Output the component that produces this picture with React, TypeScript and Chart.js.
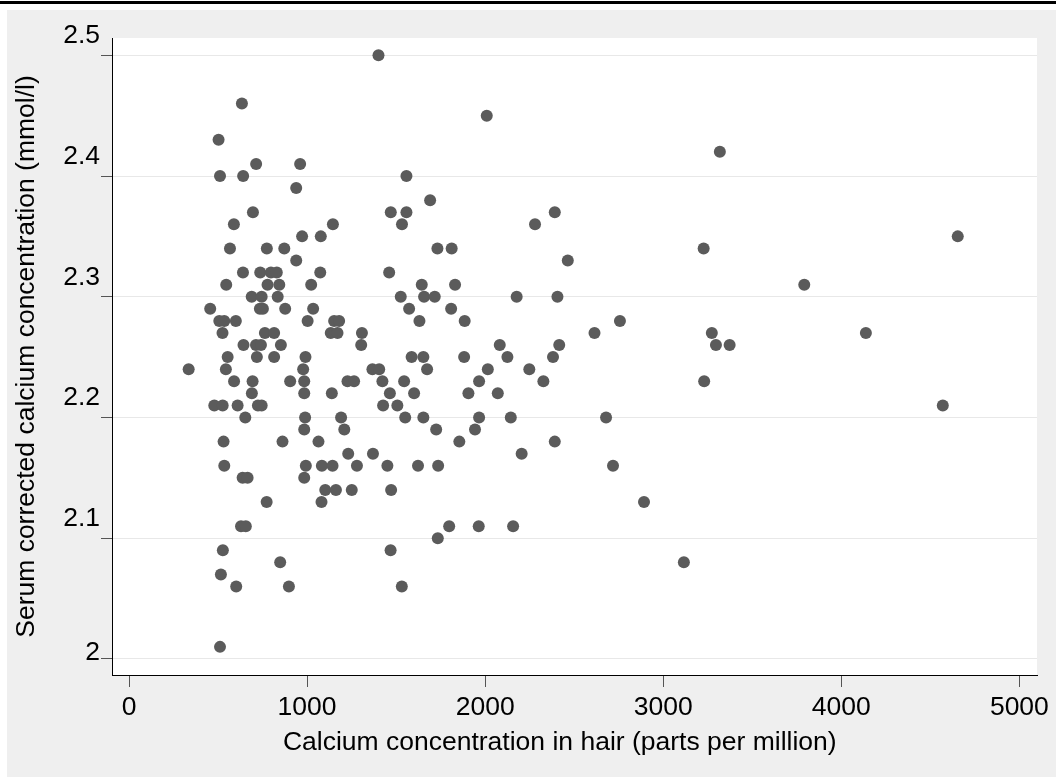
import React, { useEffect, useRef } from 'react';
import { Chart, registerables } from 'chart.js';

Chart.register(...registerables);

// Calcium concentration in hair (ppm)
const hairCalcium: number[] = [
  634, 503, 714, 961, 511, 641, 939, 696, 589, 1145,
  972, 1077, 567, 774, 872, 939, 640, 737, 797, 830,
  1074, 546, 778, 844, 1023, 689, 745, 835, 456, 735,
  752, 877, 1034, 507, 535, 600, 1003, 1152, 1180, 525,
  763, 815, 1133, 1171, 1308, 643, 713, 741, 853, 1304,
  554, 718, 815, 991, 335, 544, 978, 590, 694, 905,
  984, 1227, 1264, 690, 984, 1139, 479, 526, 610, 724,
  745, 653, 989, 1191, 984, 1209, 531, 862, 1064, 1231,
  1370, 535, 993, 1083, 1143, 1280, 638, 666, 984, 1102,
  1162, 1251, 773, 1081, 629, 656, 527, 849, 516, 602,
  898, 511, 1401, 2009, 1558, 1691, 1470, 1558, 1533, 2280,
  2391, 1732, 1812, 1461, 1644, 1831, 1526, 1657, 1717, 2177,
  2406, 1573, 1809, 1631, 1885, 2082, 2416, 1587, 1653, 1882,
  2125, 2381, 1367, 1405, 1674, 2015, 2248, 1423, 1545, 1966,
  2327, 1465, 1601, 1906, 2071, 1427, 1507, 1551, 1653, 1966,
  2144, 1725, 1943, 1855, 2391, 2205, 1451, 1623, 1736, 1472,
  1798, 1964, 2157, 1734, 1469, 1532, 3318, 3227, 2464, 2757,
  2614, 3273, 3296, 3373, 3230, 2679, 2718, 2892, 3116, 4654,
  3792, 4138, 4570,
];

// Serum corrected calcium concentration (mmol/l)
const serumCalcium: number[] = [
  2.46, 2.43, 2.41, 2.41, 2.40, 2.40, 2.39, 2.37, 2.36, 2.36,
  2.35, 2.35, 2.34, 2.34, 2.34, 2.33, 2.32, 2.32, 2.32, 2.32,
  2.32, 2.31, 2.31, 2.31, 2.31, 2.30, 2.30, 2.30, 2.29, 2.29,
  2.29, 2.29, 2.29, 2.28, 2.28, 2.28, 2.28, 2.28, 2.28, 2.27,
  2.27, 2.27, 2.27, 2.27, 2.27, 2.26, 2.26, 2.26, 2.26, 2.26,
  2.25, 2.25, 2.25, 2.25, 2.24, 2.24, 2.24, 2.23, 2.23, 2.23,
  2.23, 2.23, 2.23, 2.22, 2.22, 2.22, 2.21, 2.21, 2.21, 2.21,
  2.21, 2.20, 2.20, 2.20, 2.19, 2.19, 2.18, 2.18, 2.18, 2.17,
  2.17, 2.16, 2.16, 2.16, 2.16, 2.16, 2.15, 2.15, 2.15, 2.14,
  2.14, 2.14, 2.13, 2.13, 2.11, 2.11, 2.09, 2.08, 2.07, 2.06,
  2.06, 2.01, 2.50, 2.45, 2.40, 2.38, 2.37, 2.37, 2.36, 2.36,
  2.37, 2.34, 2.34, 2.32, 2.31, 2.31, 2.30, 2.30, 2.30, 2.30,
  2.30, 2.29, 2.29, 2.28, 2.28, 2.26, 2.26, 2.25, 2.25, 2.25,
  2.25, 2.25, 2.24, 2.24, 2.24, 2.24, 2.24, 2.23, 2.23, 2.23,
  2.23, 2.22, 2.22, 2.22, 2.22, 2.21, 2.21, 2.20, 2.20, 2.20,
  2.20, 2.19, 2.19, 2.18, 2.18, 2.17, 2.16, 2.16, 2.16, 2.14,
  2.11, 2.11, 2.11, 2.10, 2.09, 2.06, 2.42, 2.34, 2.33, 2.28,
  2.27, 2.27, 2.26, 2.26, 2.23, 2.20, 2.16, 2.13, 2.08, 2.35,
  2.31, 2.27, 2.21,
];

const xTicks: number[] = [0, 1000, 2000, 3000, 4000, 5000];
const xTickLabels: string[] = ['0', '1000', '2000', '3000', '4000', '5000'];
const yTicks: number[] = [2.0, 2.1, 2.2, 2.3, 2.4, 2.5];
const yTickLabels: string[] = ['2', '2.1', '2.2', '2.3', '2.4', '2.5'];

const xTitle = 'Calcium concentration in hair (parts per million)';
const yTitle = 'Serum corrected calcium concentration (mmol/l)';

const FONT = "'Liberation Sans', Arial, Helvetica, sans-serif";
const FS = 26.5;
const W = 1049;
const H = 767;

const plotBackground = {
  id: 'plotBackground',
  beforeDraw(chart: any) {
    const { ctx, chartArea } = chart;
    if (!chartArea) return;
    ctx.save();
    ctx.fillStyle = '#ffffff';
    ctx.fillRect(chartArea.left, chartArea.top, chartArea.right - chartArea.left, chartArea.bottom - chartArea.top);
    ctx.restore();
  },
};

export default function App() {
  const ref = useRef<HTMLCanvasElement | null>(null);

  useEffect(() => {
    document.body.style.margin = '0';
    const canvas = ref.current;
    if (!canvas) return;
    const points = hairCalcium.map((x, i) => ({ x, y: serumCalcium[i] }));
    const chart = new Chart(canvas, {
      type: 'scatter',
      data: {
        datasets: [
          {
            data: points,
            backgroundColor: '#5b5b5b',
            borderWidth: 0,
            pointRadius: 6,
            pointHoverRadius: 6,
          },
        ],
      },
      plugins: [plotBackground],
      options: {
        animation: false,
        responsive: false,
        devicePixelRatio: 1,
        events: [],
        layout: { padding: { top: 28, right: 19, left: 0, bottom: 0 } },
        plugins: { legend: { display: false }, tooltip: { enabled: false }, title: { display: false } },
        scales: {
          x: {
            type: 'linear',
            min: -95.5,
            max: 5099,
            afterBuildTicks: (s: any) => {
              s.ticks = xTicks.map((v) => ({ value: v }));
            },
            afterFit: (s: any) => {
              s.height = 102;
            },
            ticks: {
              autoSkip: false,
              maxRotation: 0,
              minRotation: 0,
              padding: 5,
              color: '#000',
              font: { family: FONT, size: FS },
              callback: (v: any) => {
                const i = xTicks.indexOf(Number(v));
                return i >= 0 ? xTickLabels[i] : '';
              },
            },
            grid: {
              display: true,
              drawOnChartArea: false,
              drawTicks: true,
              tickLength: 12,
              tickColor: '#555555',
            },
            border: { display: true, color: '#000000', width: 1 },
            title: {
              display: true,
              text: xTitle + '    ',
              color: '#000',
              font: { family: FONT, size: FS },
              padding: { top: 0, bottom: 18 },
            },
          },
          y: {
            type: 'linear',
            min: 1.9867,
            max: 2.5143,
            afterBuildTicks: (s: any) => {
              s.ticks = yTicks.map((v) => ({ value: v }));
            },
            afterFit: (s: any) => {
              s.width = 105;
            },
            ticks: {
              padding: 1,
              labelOffset: -6,
              color: '#000',
              font: { family: FONT, size: FS, lineHeight: 27 / FS },
              callback: (v: any) => {
                const i = yTicks.findIndex((t) => Math.abs(t - Number(v)) < 1e-6);
                if (i < 0) return '';
                const lab = yTickLabels[i];
                return lab.indexOf('.') >= 0 ? [lab, ''] : lab;
              },
            },
            grid: {
              display: true,
              drawOnChartArea: true,
              drawTicks: true,
              tickLength: 11,
              tickColor: '#555555',
              color: '#e8e8e8',
              lineWidth: 1,
            },
            border: { display: true, color: '#000000', width: 1 },
            title: {
              display: true,
              text: yTitle,
              color: '#000',
              font: { family: FONT, size: FS },
              padding: { top: 4, bottom: 0 },
            },
          },
        },
      },
    });
    return () => chart.destroy();
  }, []);

  return (
    <div style={{ position: 'fixed', left: 0, top: 0, width: 1056, height: 777, background: '#ffffff', overflow: 'hidden' }}>
      <div style={{ position: 'absolute', left: 0, top: 1, width: 1056, height: 3, background: '#000000' }} />
      <div style={{ position: 'absolute', left: 7, top: 10, width: W, height: H, background: '#efefef' }}>
        <canvas ref={ref} width={W} height={H} style={{ display: 'block', width: W, height: H }} />
      </div>
    </div>
  );
}
